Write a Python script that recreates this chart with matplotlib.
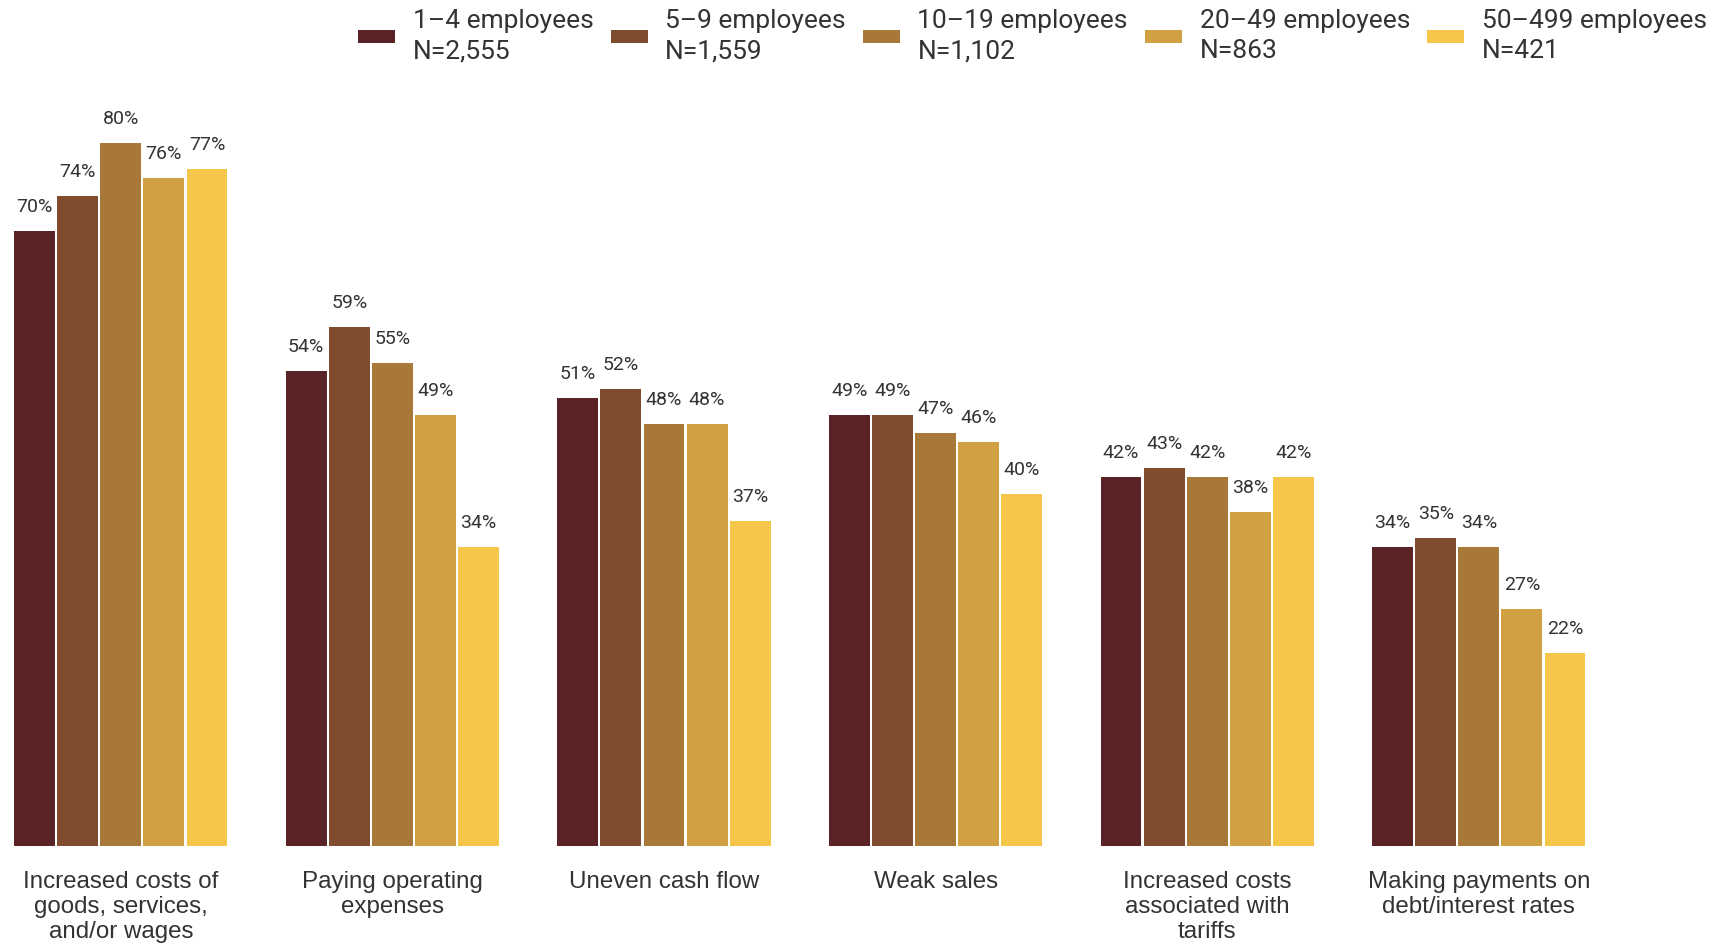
import numpy as np
import matplotlib.pyplot as plt
from matplotlib.patches import Patch

categories = [
    "Increased costs of\ngoods, services,\nand/or wages",
    "Paying operating\nexpenses",
    "Uneven cash flow",
    "Weak sales",
    "Increased costs\nassociated with\ntariffs",
    "Making payments on\ndebt/interest rates",
]
sizes = ["1\u20134 employees\nN=2,555", "5\u20139 employees\nN=1,559",
         "10\u201319 employees\nN=1,102", "20\u201349 employees\nN=863",
         "50\u2013499 employees\nN=421"]
values = [
    [70, 54, 51, 49, 42, 34],   # 1-4
    [74, 59, 52, 49, 43, 35],   # 5-9
    [80, 55, 48, 47, 42, 34],   # 10-19
    [76, 49, 48, 46, 38, 27],   # 20-49
    [77, 34, 37, 40, 42, 22],   # 50-499
]
colors = ["#5A2427", "#7F4D2E", "#A87838", "#D0A042", "#F4C74A"]

W, H = 1724, 944
fig = plt.figure(figsize=(W / 100, H / 100), dpi=100)
# axes spans full width; baseline at 846 px, top at 80 px
ax = fig.add_axes([0, (H - 846) / H, 1, (846 - 80) / H])

slot = 43.1 / 271.6
x = np.arange(len(categories))
for i, (vals, c) in enumerate(zip(values, colors)):
    xs = x + (i - 2) * slot
    ax.bar(xs, vals, width=slot * 0.95, color=c, linewidth=0)
    for xi, v in zip(xs, vals):
        ax.text(xi, v + 1.7, f"{v}%", ha="center", va="bottom",
                fontsize=14, color="#333333", family="Roboto")

ax.set_xlim(-120.8 / 271.6, (W - 120.8) / 271.6)
ax.set_ylim(0, (846 - 80) / 8.79)
ax.axis("off")

for xi, lab in zip(x, categories):
    ax.text(xi, -2.85, lab, ha="center", va="top", fontsize=17.4,
            color="#333333", family="Liberation Sans", linespacing=1.18)

handles = [Patch(facecolor=c, label=s) for c, s in zip(colors, sizes)]
leg = fig.legend(handles=handles, loc="upper right", bbox_to_anchor=(1720 / W, 1.004),
                 ncol=5, frameon=False, prop={"family": "Roboto", "size": 19},
                 handlelength=1.4, handleheight=0.33, handletextpad=0.67,
                 columnspacing=0.65, borderpad=0.0, labelspacing=0.3)
for t in leg.get_texts():
    t.set_multialignment("left")
    t.set_color("#333333")
    t.set_linespacing(1.32)

fig.savefig("out.png", dpi=100)
